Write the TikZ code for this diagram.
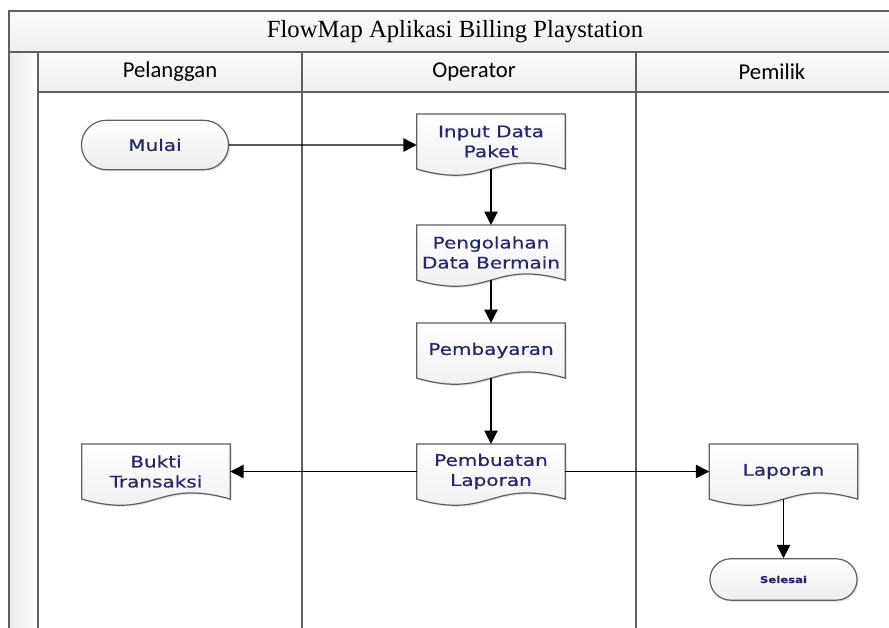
\documentclass[tikz,border=0pt]{standalone}
\usepackage{fontspec}
\setmainfont{Liberation Serif}
\newfontfamily\headfont{Carlito}
\newfontfamily\boxfont{DejaVu Sans}[FakeStretch=1.25,FakeBold=0.4]
\usetikzlibrary{arrows.meta,shapes.misc,backgrounds,calc,shadows}
\definecolor{framegray}{RGB}{95,95,95}
\definecolor{boxtext}{RGB}{38,38,110}

\begin{document}
\begin{tikzpicture}[x=0.75pt,y=-0.75pt,
  lane/.style={draw=framegray,line width=1.1pt},
  band/.style={lane,top color=gray!3,bottom color=gray!13},
  head/.style={font=\headfont\fontsize{17}{19}\selectfont},
  term/.style={rounded rectangle,draw=framegray,line width=0.9pt,top color=white,bottom color=gray!14,
    drop shadow={opacity=0.2,shadow xshift=1.2pt,shadow yshift=-1.2pt},
    font=\boxfont\fontsize{12}{15}\selectfont,text=boxtext,minimum width=117pt,minimum height=37pt},
  doc/.style={rectangle,minimum width=111pt,minimum height=41pt,inner sep=0pt,align=center,
    font=\boxfont\fontsize{12}{15}\selectfont,text=boxtext},
  docline/.style={draw=framegray,line width=0.9pt,top color=white,bottom color=gray!14,
    drop shadow={opacity=0.2,shadow xshift=1.2pt,shadow yshift=-1.2pt}},
  flow/.style={-{Triangle[length=10pt,width=10pt]},line width=1.1pt}
]
\useasboundingbox (0,0) rectangle (889,628);

% swimlane frame
\path[band] (9,11) rectangle (920,52);
\path[lane,left color=gray!16,right color=white] (9,52) rectangle (38,640);
\path[band] (38,52) rectangle (920,92);
\draw[lane] (302,52) -- (302,640) (636,52) -- (636,640);
\node[font=\fontsize{18.5}{20}\selectfont] (judul) at (455,31.5) {FlowMap Aplikasi Billing Playstation};
\node[head] (pelanggan) at (170,72) {Pelanggan};
\node[head] (operator) at (474,72) {Operator};
\node[head] (pemilik) at (772,72) {Pemilik};

% flow
\node[term] (mulai) at (155,145) {Mulai};
\node[doc] (input) at (491,141.5) {Input Data\\Paket};
\node[doc] (olah) at (491,252.5) {Pengolahan\\Data Bermain};
\node[doc] (bayar) at (491,350.5) {Pembayaran};
\node[doc] (buat) at (491,471.5) {Pembuatan\\Laporan};
\node[doc] (bukti) at (156,471.5) {Bukti\\Transaksi};
\node[doc] (lapor) at (783.5,471.5) {Laporan};
\node[term,minimum height=31pt,font=\boxfont\bfseries\fontsize{7}{8}\selectfont] (selesai) at (783.5,579.5) {Selesai};

% document shapes
\begin{scope}[on background layer]
\foreach \n in {input,olah,bayar,buat,bukti,lapor}
  \path[docline] (\n.north west) -- (\n.north east) -- (\n.south east)
    .. controls ($(\n.south)+(0,16pt)$) and ($(\n.south)+(0,-16pt)$) .. (\n.south west) -- cycle;
\end{scope}

\draw[flow] (mulai) -- (mulai -| input.west);
\draw[flow] (input.south) -- (olah.north);
\draw[flow] (olah.south) -- (bayar.north);
\draw[flow] (bayar.south) -- (buat.north);
\draw[flow] (buat.west) -- (bukti.east);
\draw[flow] (buat.east) -- (lapor.west);
\draw[flow] (lapor.south) -- (selesai.north);
\end{tikzpicture}
\end{document}
